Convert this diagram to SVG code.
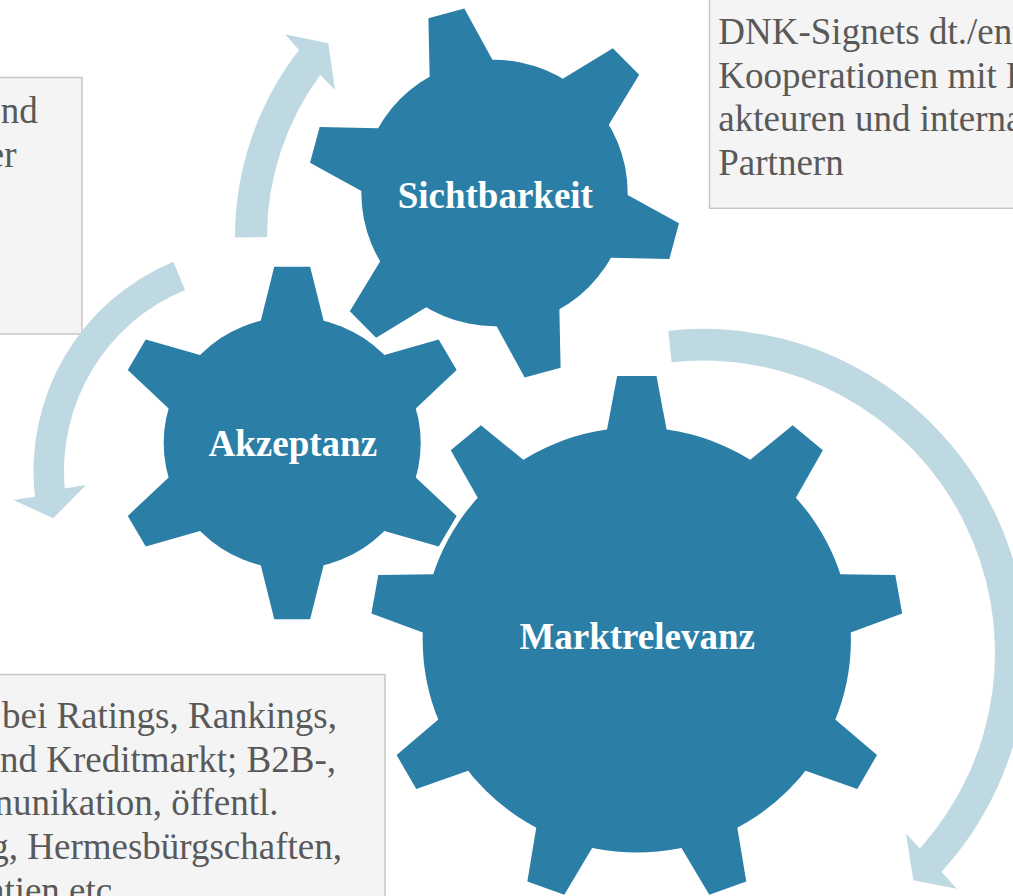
<svg xmlns="http://www.w3.org/2000/svg" width="1013" height="896" viewBox="0 0 1013 896">
  <style>
    .gear{fill:#2b7fa7}
    .label{font-family:"Liberation Serif","Times New Roman",serif;font-weight:bold;font-size:37px;fill:#ffffff;text-anchor:middle}
    .box{fill:#f4f4f4;stroke:#c6c6c6;stroke-width:1.5}
    .note{font-family:"Liberation Serif","Times New Roman",serif;font-size:37px;fill:#595959}
    .note-end{text-anchor:end}
    .arrow{fill:#bfd9e3}
  </style>
  <defs>
    <!-- unit teeth pointing up; the gear group scales them to its radius -->
    <polygon id="tooth6" points="-0.175,-0.694 -0.1,-1 0.1,-1 0.175,-0.694 0.175,-0.55 -0.175,-0.55"/>
    <polygon id="tooth9" points="-0.112,-0.797 -0.074,-1 0.074,-1 0.112,-0.797 0.112,-0.6 -0.112,-0.6"/>
  </defs>

  <rect width="1013" height="896" fill="#ffffff"/>

  <!-- text boxes -->
  <g id="box-top-left">
    <rect class="box" x="-10" y="77.5" width="92" height="256.5"/>
    <text class="note note-end" x="37.7" y="123.3">nd</text>
    <text class="note note-end" x="16.5" y="166.9">er</text>
  </g>
  <g id="box-top-right">
    <rect class="box" x="709.5" y="-10" width="320" height="218.3"/>
    <text class="note" x="718.3" y="44.3">DNK-Signets dt./en</text>
    <text class="note" x="718.3" y="87.9">Kooperationen mit B</text>
    <text class="note" x="718.3" y="131.4">akteuren und interna</text>
    <text class="note" x="718.3" y="175">Partnern</text>
  </g>
  <g id="box-bottom-left">
    <rect class="box" x="-10" y="674.5" width="395" height="240"/>
    <text class="note note-end" x="337" y="728.3">bei Ratings, Rankings,</text>
    <text class="note note-end" x="336" y="771.9">nd Kreditmarkt; B2B-,</text>
    <text class="note note-end" x="278.5" y="815.4">nunikation, öffentl.</text>
    <text class="note note-end" x="342" y="859">g, Hermesbürgschaften,</text>
    <text class="note note-end" x="121.5" y="902.6">ntien etc.</text>
  </g>

  <!-- circular arrows -->
  <g id="connectors">
    <path class="arrow" d="M 235 237.5 A 305 305 0 0 1 299 50.06 L 285 34.3 L 328.3 43.3 L 335 90 L 320.26 75 A 273 273 0 0 0 267 237 Z"/>
    <path class="arrow" d="M 173.32 261.74 A 226.5 226.5 0 0 0 34.96 496.64 L 13.3 500 L 53.3 518.3 L 86 485 L 64.78 488.42 A 196 196 0 0 1 185 289.92 Z"/>
    <path class="arrow" d="M 668.27 330.63 A 324 324 0 0 1 941.58 871.69 L 956.7 888.7 L 913.3 880.2 L 906 833.6 L 919.92 848.39 A 292.3 292.3 0 0 0 671.64 362.16 Z"/>
  </g>

  <!-- gears -->
  <g id="gear-sichtbarkeit">
    <g class="gear" transform="translate(494.5,193) scale(186)">
      <circle r="0.716"/>
      <use href="#tooth6" transform="rotate(-15)"/>
      <use href="#tooth6" transform="rotate(45)"/>
      <use href="#tooth6" transform="rotate(105)"/>
      <use href="#tooth6" transform="rotate(165)"/>
      <use href="#tooth6" transform="rotate(225)"/>
      <use href="#tooth6" transform="rotate(285)"/>
    </g>
    <text class="label" x="495.3" y="208.3">Sichtbarkeit</text>
  </g>

  <g id="gear-akzeptanz">
    <g class="gear" transform="translate(292.2,443) scale(179.5,176.3)">
      <circle r="0.716"/>
      <use href="#tooth6"/>
      <use href="#tooth6" transform="rotate(60)"/>
      <use href="#tooth6" transform="rotate(120)"/>
      <use href="#tooth6" transform="rotate(180)"/>
      <use href="#tooth6" transform="rotate(240)"/>
      <use href="#tooth6" transform="rotate(300)"/>
    </g>
    <text class="label" x="292.8" y="456">Akzeptanz</text>
  </g>

  <g id="gear-marktrelevanz">
    <g class="gear" transform="translate(636.8,640) scale(266,264)">
      <circle r="0.805"/>
      <use href="#tooth9"/>
      <use href="#tooth9" transform="rotate(40)"/>
      <use href="#tooth9" transform="rotate(80)"/>
      <use href="#tooth9" transform="rotate(120)"/>
      <use href="#tooth9" transform="rotate(160)"/>
      <use href="#tooth9" transform="rotate(200)"/>
      <use href="#tooth9" transform="rotate(240)"/>
      <use href="#tooth9" transform="rotate(280)"/>
      <use href="#tooth9" transform="rotate(320)"/>
    </g>
    <text class="label" x="637.2" y="649.3">Marktrelevanz</text>
  </g>
</svg>
